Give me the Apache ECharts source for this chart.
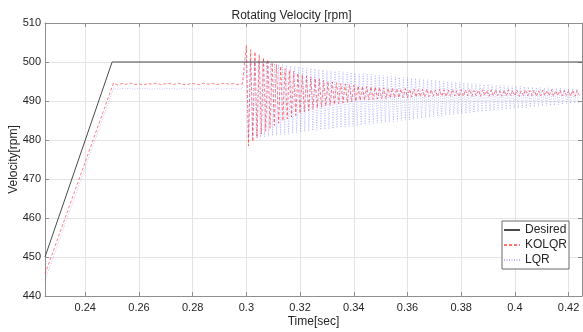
<!DOCTYPE html>
<html>
<head>
<meta charset="utf-8">
<script src="https://cdn.jsdelivr.net/npm/echarts@6/dist/echarts.min.js"></script>
<style>html,body{margin:0;padding:0;background:#fff}#c{width:583px;height:332px}</style>
</head>
<body>
<div id="c"></div>
<script>
// ---- data ----
const seriesNames = ['Desired', 'KOLQR', 'LQR'];
const yTicks = [440, 450, 460, 470, 480, 490, 500, 510];
const xRange = [0.225, 0.425];

const desiredT = [0.225, 0.25, 0.425];
const desiredV = [450, 500, 500];

// ramp segment (time, value)
const kolqrRampT = [0.225, 0.2505];
const kolqrRampV = [445.6, 494.6];
const lqrRampT = [0.225, 0.2505];
const lqrRampV = [444.0, 493.2];

// plateau ripple before the disturbance (sampled every step)
const kolqrPlateauStep = 0.0016;
const kolqrPlateau = [494.6, 494.1, 494.5, 494.3, 494.6, 494.2, 494.4, 494.1, 494.5, 494.3, 494.6, 494.2, 494.4, 494.5, 494.2, 494.6, 494.3, 494.1, 494.5, 494.4, 494.2, 494.6, 494.3, 494.5, 494.2, 494.4, 494.6, 494.3, 494.5, 494.2, 494.4];
const lqrPlateauStep = 0.0015;
const lqrPlateau = [493.2, 493.0, 493.2, 493.1, 493.2, 493.0, 493.2, 493.1, 493.2, 493.0, 493.1, 493.2, 493.0, 493.2, 493.1, 493.2, 493.0, 493.2, 493.1, 493.2, 493.0, 493.2, 493.1, 493.2, 493.0, 493.1, 493.2, 493.0, 493.2, 493.1, 493.2, 493.0, 493.2];

// oscillation after t = 0.3: per-cycle peaks and troughs
const oscStart = 0.3;
const kolqrPeriod = 0.0016;
const kolqrPeaks = [504.3, 503.2, 502.6, 501.9, 501.1, 500.6, 499.9, 499.4, 498.9, 498.3,
  497.9, 497.6, 497.1, 496.8, 496.4, 496.2, 495.8, 495.6, 495.3, 495.1,
  494.9, 494.7, 494.5, 494.4, 494.2, 494.1, 493.9, 493.8, 493.7, 493.7,
  493.6, 493.5, 493.4, 493.3, 493.4, 493.2, 493.1, 493.2, 493.0, 493.1,
  492.9, 493.0, 493.1, 492.9, 492.8, 493.0, 492.9, 492.8, 493.0, 492.7,
  492.9, 492.8, 493.0, 492.7, 492.8, 492.9, 492.7, 492.8, 492.9, 492.6,
  492.8, 492.9, 492.7, 492.8, 492.6, 492.9, 492.7, 492.8, 492.6, 492.8,
  492.7, 492.9, 492.6, 492.8, 492.7, 492.6, 492.8, 492.7];
const kolqrTroughs = [478.5, 479.6, 480.6, 481.5, 482.3, 483.0, 483.7, 484.3, 484.9, 485.4,
  485.9, 486.3, 486.8, 487.2, 487.5, 487.9, 488.2, 488.4, 488.7, 488.9,
  489.1, 489.3, 489.5, 489.6, 489.8, 489.9, 490.1, 490.2, 490.3, 490.4,
  490.5, 490.6, 490.6, 490.7, 490.8, 490.8, 490.9, 490.9, 491.0, 491.0,
  491.1, 491.0, 491.1, 491.2, 491.1, 491.2, 491.1, 491.2, 491.3, 491.1,
  491.2, 491.3, 491.2, 491.3, 491.2, 491.4, 491.2, 491.3, 491.4, 491.2,
  491.3, 491.4, 491.3, 491.2, 491.4, 491.3, 491.4, 491.2, 491.3, 491.4,
  491.3, 491.2, 491.4, 491.3, 491.4, 491.3, 491.2, 491.4];
const lqrPeriod = 0.0015;
const lqrPeaks = [500.8, 500.6, 500.4, 500.3, 500.1, 499.9, 499.7, 499.6, 499.4, 499.3,
  499.2, 499.0, 498.9, 498.8, 498.6, 498.5, 498.4, 498.3, 498.1, 498.0,
  497.9, 497.8, 497.7, 497.6, 497.5, 497.4, 497.3, 497.2, 497.1, 497.0,
  496.9, 496.8, 496.7, 496.6, 496.5, 496.4, 496.3, 496.2, 496.1, 496.0,
  496.0, 495.9, 495.8, 495.7, 495.6, 495.5, 495.4, 495.3, 495.2, 495.1,
  495.0, 494.9, 494.9, 494.8, 494.7, 494.6, 494.5, 494.5, 494.4, 494.3,
  494.3, 494.2, 494.1, 494.1, 494.0, 493.9, 493.9, 493.8, 493.8, 493.7,
  493.6, 493.6, 493.5, 493.5, 493.4, 493.4, 493.3, 493.3, 493.3, 493.2,
  493.2, 493.2, 493.1];
const lqrTroughs = [480.4, 480.5, 480.6, 480.7, 480.8, 480.9, 481.1, 481.2, 481.3, 481.4,
  481.6, 481.7, 481.8, 482.0, 482.1, 482.2, 482.4, 482.5, 482.6, 482.7,
  482.8, 482.9, 483.1, 483.2, 483.3, 483.4, 483.5, 483.6, 483.8, 483.9,
  484.0, 484.1, 484.3, 484.4, 484.5, 484.6, 484.7, 484.8, 485.0, 485.1,
  485.2, 485.3, 485.4, 485.6, 485.7, 485.8, 485.9, 486.0, 486.1, 486.3,
  486.4, 486.5, 486.6, 486.7, 486.8, 486.9, 487.0, 487.1, 487.2, 487.3,
  487.4, 487.5, 487.6, 487.7, 487.8, 487.9, 488.0, 488.1, 488.2, 488.3,
  488.4, 488.5, 488.6, 488.7, 488.8, 488.8, 488.9, 489.0, 489.1, 489.2,
  489.3, 489.4, 489.5];

// ---- build point tables ----
function build(rampT, rampV, plateau, plStep, peaks, troughs, period) {
  const pts = [];
  rampT.forEach((t, i) => pts.push([t, rampV[i]]));
  const t0 = rampT[rampT.length - 1];
  plateau.forEach((v, i) => { if (i > 0) pts.push([t0 + i * plStep, v]); });
  peaks.forEach((v, i) => {
    pts.push([oscStart + i * period, v]);
    pts.push([oscStart + (i + 0.5) * period, troughs[i]]);
  });
  return pts;
}
const desiredData = desiredT.map((t, i) => [t, desiredV[i]]);
const kolqrData = build(kolqrRampT, kolqrRampV, kolqrPlateau, kolqrPlateauStep, kolqrPeaks, kolqrTroughs, kolqrPeriod);
const lqrData = build(lqrRampT, lqrRampV, lqrPlateau, lqrPlateauStep, lqrPeaks, lqrTroughs, lqrPeriod);

const FONT = '"Liberation Sans", Arial, sans-serif';
const TXT = '#262626';
const AX = '#8f8f8f';
const NONE = 'rgba(0,0,0,0)';

const chart = echarts.init(document.getElementById('c'), null, {renderer: 'canvas'});
chart.setOption({
  animation: false,
  backgroundColor: '#fff',
  textStyle: {fontFamily: FONT},
  title: {
    text: 'Rotating Velocity [rpm]', left: 'center', top: 5,
    textStyle: {fontSize: 12, fontWeight: 'normal', color: TXT, fontFamily: FONT}
  },
  grid: {left: 45, right: 1, top: 23, bottom: 36, outerBoundsMode: 'none', containLabel: false},
  legend: {
    data: seriesNames, orient: 'vertical', left: 502, top: 221,
    padding: [3, 2, 3, 1], itemGap: 3, itemWidth: 16, itemHeight: 12,
    backgroundColor: '#fff', borderColor: '#444', borderWidth: 0.8, borderRadius: 0,
    itemStyle: {opacity: 0, borderWidth: 0},
    textStyle: {fontSize: 12, color: TXT, fontFamily: FONT}
  },
  xAxis: [{
    type: 'value', min: xRange[0], max: xRange[1], splitNumber: 10,
    name: 'Time[sec]', nameLocation: 'middle', nameGap: 20, nameMoveOverlap: false,
    nameTextStyle: {fontSize: 12, color: TXT, fontFamily: FONT},
    axisLine: {show: true, lineStyle: {color: AX, width: 1}},
    axisTick: {show: true, inside: true, length: 4, lineStyle: {color: AX}},
    axisLabel: {show: true, showMinLabel: false, showMaxLabel: false, fontSize: 11, color: TXT, margin: 6, fontFamily: FONT},
    splitLine: {show: true, lineStyle: {color: '#e4e4e4', width: 1}}
  }, {
    type: 'value', position: 'top', min: xRange[0], max: xRange[1], splitNumber: 10,
    axisLine: {show: true, onZero: false, lineStyle: {color: AX, width: 1}},
    axisTick: {show: true, inside: true, length: 4, lineStyle: {color: AX}},
    axisLabel: {show: false}, splitLine: {show: false}
  }],
  yAxis: [{
    type: 'value', min: yTicks[0], max: yTicks[yTicks.length - 1], interval: 10,
    name: 'Velocity[rpm]', nameLocation: 'middle', nameGap: 25, nameMoveOverlap: false,
    nameTextStyle: {fontSize: 12, color: TXT, fontFamily: FONT},
    axisLine: {show: true, lineStyle: {color: AX, width: 1}},
    axisTick: {show: true, inside: true, length: 4, lineStyle: {color: AX}},
    axisLabel: {fontSize: 11, color: TXT, margin: 4, fontFamily: FONT},
    splitLine: {show: true, lineStyle: {color: '#e4e4e4', width: 1}}
  }, {
    type: 'value', position: 'right', min: yTicks[0], max: yTicks[yTicks.length - 1], interval: 10,
    axisLine: {show: true, onZero: false, lineStyle: {color: AX, width: 1}},
    axisTick: {show: true, inside: true, length: 4, lineStyle: {color: AX}},
    axisLabel: {show: false}, splitLine: {show: false}
  }],
  series: [{
    name: 'Desired', type: 'line', data: desiredData, showSymbol: false, symbol: 'none',
    lineStyle: {color: '#4a4a4a', width: 1}, itemStyle: {color: NONE}, z: 3
  }, {
    name: 'KOLQR', type: 'line', data: kolqrData, showSymbol: false, symbol: 'none',
    lineStyle: {color: 'rgba(255,40,40,0.65)', width: 0.9, type: [3, 2]}, itemStyle: {color: NONE}, z: 2
  }, {
    name: 'LQR', type: 'line', data: lqrData, showSymbol: false, symbol: 'none',
    lineStyle: {color: 'rgba(60,60,255,0.35)', width: 0.9, type: [1, 1.5]}, itemStyle: {color: NONE}, z: 2
  }]
});
</script>
</body>
</html>
